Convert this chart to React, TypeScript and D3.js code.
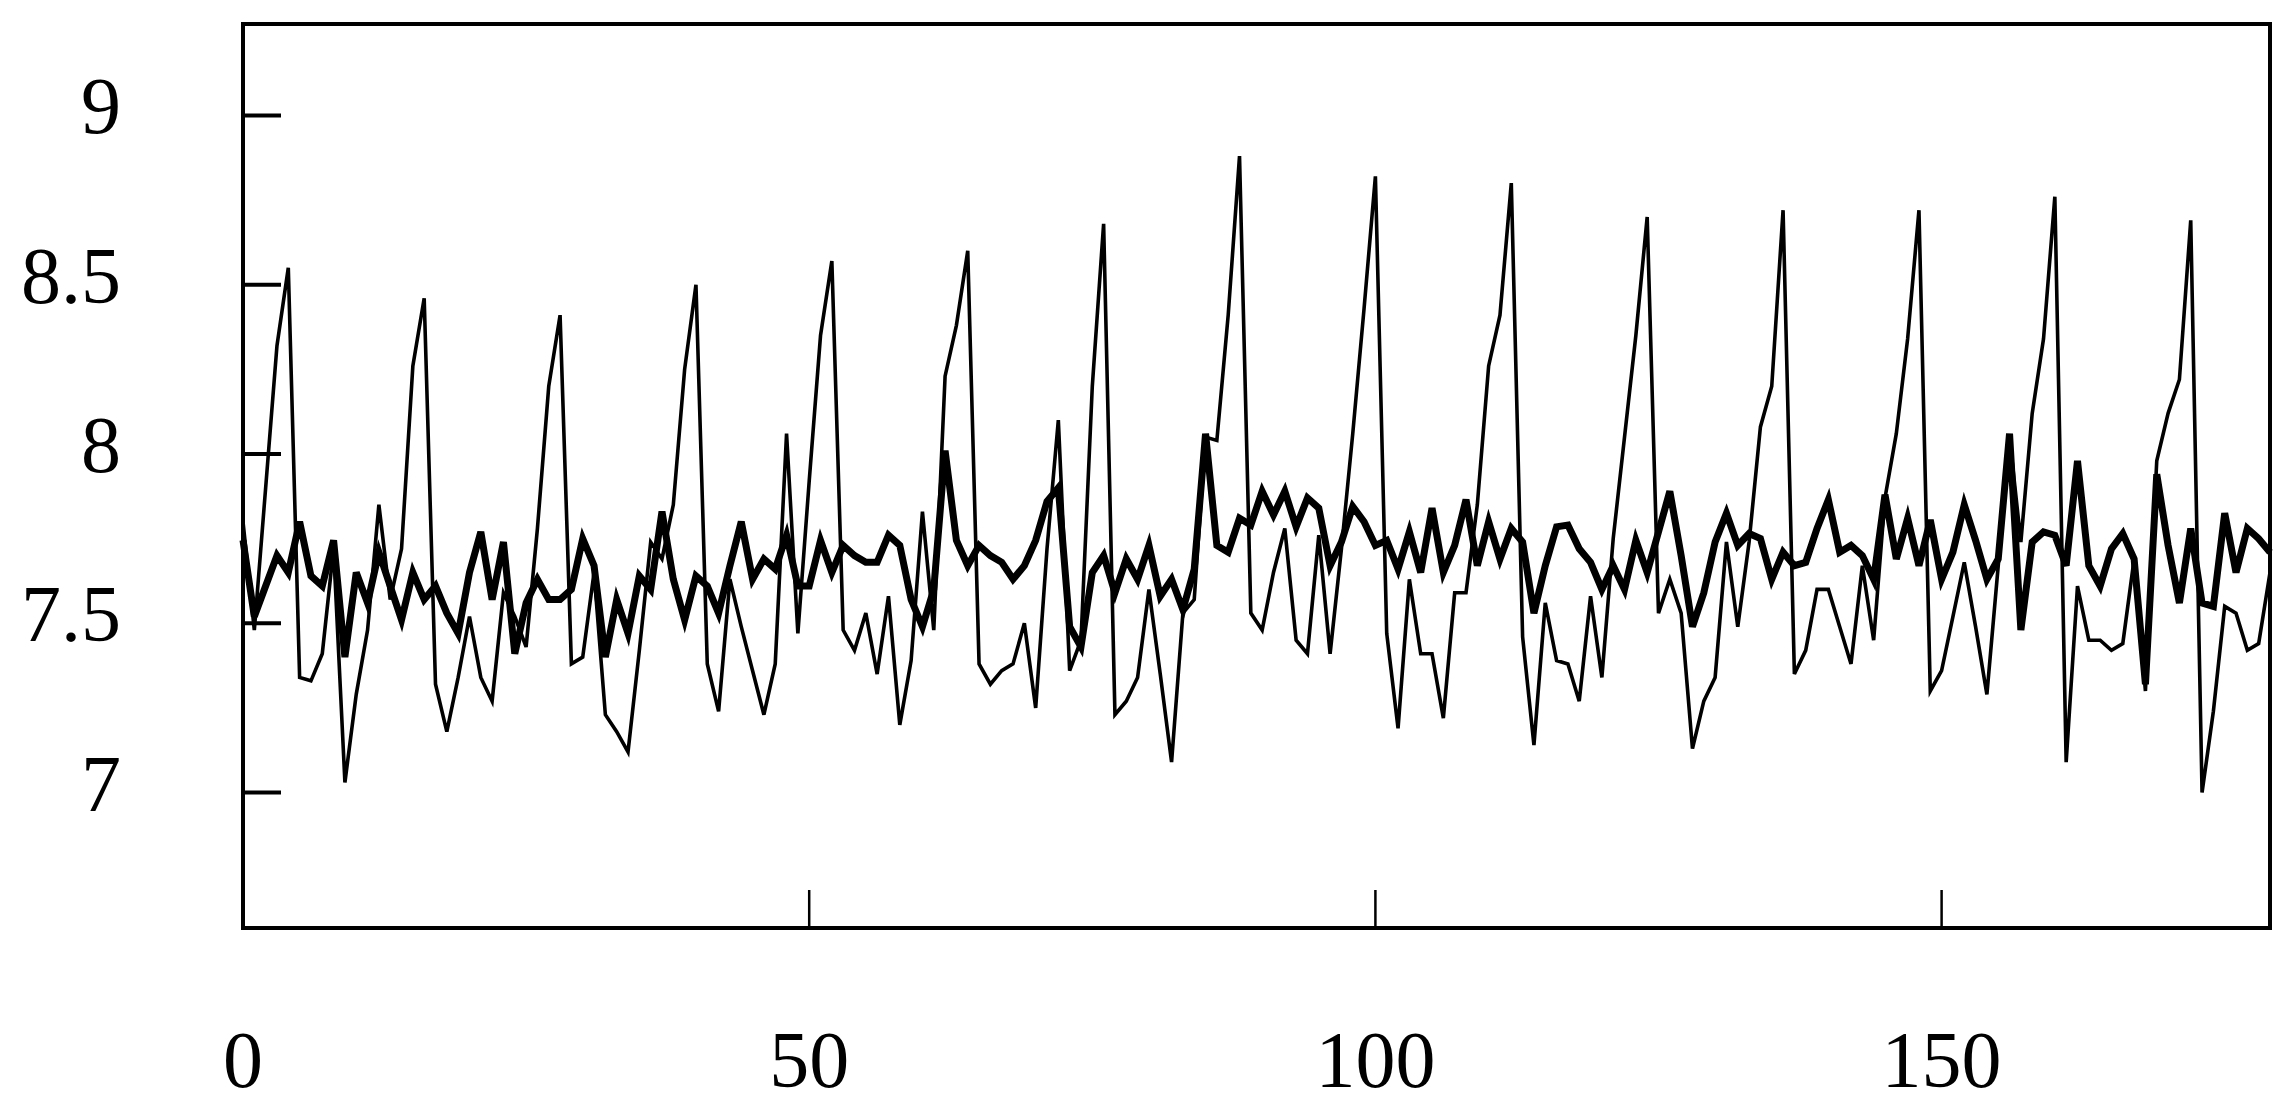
import React from "react";
import * as d3 from "d3";

const W = 2293;
const H = 1111;

// x positions: months 0..179
const xTicks = [0, 50, 100, 150];
const yTicks = [7, 7.5, 8, 8.5, 9];
const yTickLabels = ["7", "7.5", "8", "8.5", "9"];

// thin, spiky series
const thinSeries = [
  7.80, 7.48, 7.90, 8.32, 8.55, 7.34, 7.33, 7.41, 7.72, 7.03,
  7.29, 7.48, 7.85, 7.57, 7.72, 8.26, 8.46, 7.32, 7.18, 7.34,
  7.52, 7.34, 7.27, 7.59, 7.52, 7.43, 7.78, 8.20, 8.41, 7.38,
  7.40, 7.65, 7.23, 7.18, 7.12, 7.42, 7.74, 7.69, 7.85, 8.25,
  8.50, 7.38, 7.24, 7.63, 7.49, 7.36, 7.23, 7.38, 8.06, 7.47,
  7.92, 8.35, 8.57, 7.48, 7.42, 7.53, 7.35, 7.58, 7.20, 7.39,
  7.83, 7.48, 8.23, 8.38, 8.60, 7.38, 7.32, 7.36, 7.38, 7.50,
  7.25, 7.72, 8.10, 7.36, 7.45, 8.20, 8.68, 7.23, 7.27, 7.34,
  7.60, 7.35, 7.09, 7.53, 7.57, 8.05, 8.04, 8.41, 8.88, 7.53,
  7.48, 7.65, 7.78, 7.45, 7.41, 7.76, 7.41, 7.72, 8.06, 8.43,
  8.82, 7.47, 7.19, 7.63, 7.41, 7.41, 7.22, 7.59, 7.59, 7.85,
  8.26, 8.41, 8.80, 7.46, 7.14, 7.56, 7.39, 7.38, 7.27, 7.58,
  7.34, 7.75, 8.05, 8.35, 8.70, 7.53, 7.63, 7.53, 7.13, 7.27,
  7.34, 7.74, 7.49, 7.74, 8.08, 8.20, 8.72, 7.35, 7.42, 7.60,
  7.60, 7.49, 7.38, 7.67, 7.45, 7.87, 8.06, 8.34, 8.72, 7.30,
  7.36, 7.52, 7.68, 7.49, 7.29, 7.67, 8.05, 7.74, 8.12, 8.34,
  8.76, 7.09, 7.61, 7.45, 7.45, 7.42, 7.44, 7.69, 7.30, 7.98,
  8.12, 8.22, 8.69, 7.00, 7.24, 7.55, 7.53, 7.42, 7.44, 7.65,
];

// thick, smoother series
const thickSeries = [
  7.745, 7.52, 7.61, 7.70, 7.65, 7.80, 7.64, 7.61, 7.745, 7.40,
  7.65, 7.56, 7.71, 7.61, 7.51, 7.65, 7.57, 7.61, 7.53, 7.47,
  7.65, 7.77, 7.57, 7.74, 7.41, 7.56, 7.63, 7.57, 7.57, 7.60,
  7.75, 7.67, 7.40, 7.57, 7.47, 7.64, 7.60, 7.83, 7.63, 7.51,
  7.64, 7.61, 7.53, 7.67, 7.80, 7.63, 7.69, 7.66, 7.76, 7.61,
  7.61, 7.745, 7.65, 7.73, 7.70, 7.68, 7.68, 7.76, 7.73, 7.57,
  7.49, 7.60, 8.01, 7.745, 7.67, 7.73, 7.70, 7.68, 7.63, 7.67,
  7.745, 7.86, 7.90, 7.49, 7.43, 7.65, 7.70, 7.59, 7.69, 7.63,
  7.73, 7.58, 7.63, 7.54, 7.66, 8.06, 7.73, 7.71, 7.81, 7.79,
  7.89, 7.82, 7.89, 7.785, 7.87, 7.84, 7.67, 7.74, 7.845, 7.80,
  7.73, 7.745, 7.66, 7.77, 7.65, 7.84, 7.65, 7.73, 7.865, 7.67,
  7.80, 7.69, 7.78, 7.74, 7.53, 7.67, 7.785, 7.79, 7.72, 7.68,
  7.60, 7.67, 7.60, 7.745, 7.65, 7.77, 7.89, 7.70, 7.49, 7.59,
  7.74, 7.825, 7.73, 7.765, 7.75, 7.63, 7.71, 7.67, 7.68, 7.78,
  7.865, 7.71, 7.73, 7.70, 7.63, 7.88, 7.69, 7.81, 7.67, 7.805,
  7.63, 7.71, 7.85, 7.745, 7.63, 7.69, 8.06, 7.48, 7.74, 7.77,
  7.76, 7.67, 7.98, 7.67, 7.61, 7.72, 7.765, 7.69, 7.32, 7.94,
  7.73, 7.56, 7.78, 7.56, 7.55, 7.825, 7.65, 7.78, 7.75, 7.71,
];

const xDomain = [0, 179];
const yDomain = [6.6, 9.27];

export default function App() {
  const left = 243;
  const right = 2270;
  const top = 24;
  const bottom = 928;

  const x = d3.scaleLinear().domain(xDomain).range([left, right]);
  const y = d3.scaleLinear().domain(yDomain).range([bottom, top]);

  const line = d3
    .line<number>()
    .x((_, i) => x(i))
    .y((d) => y(d));

  const font = "'Liberation Serif', 'Times New Roman', serif";
  const tickLen = 38;

  return (
    <svg
      width={W}
      height={H}
      style={{ position: "absolute", left: 0, top: 0, background: "#fff" }}
    >
      <rect x={0} y={0} width={W} height={H} fill="#fff" />
      {/* data lines */}
      <path d={line(thinSeries) || ""} fill="none" stroke="#000" strokeWidth={3.6} />
      <path d={line(thickSeries) || ""} fill="none" stroke="#000" strokeWidth={7} />

      {/* y ticks */}
      {yTicks.map((t, i) => (
        <g key={"yt" + i}>
          <line x1={left} x2={left + tickLen} y1={y(t)} y2={y(t)} stroke="#000" strokeWidth={4} />
          <text
            x={121}
            y={y(t) + 18}
            textAnchor="end"
            fontFamily={font}
            fontSize={80}
            fill="#000"
          >
            {yTickLabels[i]}
          </text>
        </g>
      ))}

      {/* x ticks */}
      {xTicks.map((t, i) => (
        <g key={"xt" + i}>
          <line x1={x(t)} x2={x(t)} y1={bottom} y2={bottom - tickLen} stroke="#000" strokeWidth={2.5} />
          <text
            x={x(t)}
            y={1087}
            textAnchor="middle"
            fontFamily={font}
            fontSize={80}
            fill="#000"
          >
            {String(t)}
          </text>
        </g>
      ))}

      {/* frame */}
      <rect
        x={left}
        y={top}
        width={right - left}
        height={bottom - top}
        fill="none"
        stroke="#000"
        strokeWidth={4}
      />
    </svg>
  );
}
